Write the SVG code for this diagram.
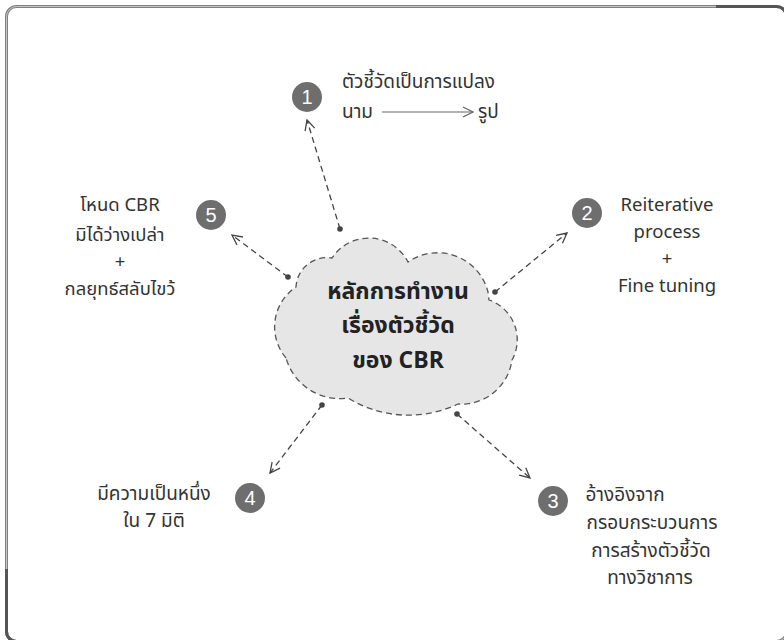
<svg xmlns="http://www.w3.org/2000/svg" width="784" height="640" viewBox="0 0 784 640">
<defs>
<style>
.t{font-family:"Noto Sans Thai","Noto Sans","Liberation Sans",sans-serif;font-size:19px;fill:#333;}
.s{font-size:18.5px;}
.c{text-anchor:middle;}
.num{font-family:"Liberation Sans",sans-serif;font-size:20px;fill:#fff;text-anchor:middle;}
.badge{fill:#6e6e6e;}
.conn{fill:none;stroke:#444;stroke-width:1.3;stroke-dasharray:6 4;marker-start:url(#dot);marker-end:url(#arr);}
.title{font-family:"Noto Sans Thai","Noto Sans","Liberation Sans",sans-serif;font-size:23px;font-weight:bold;fill:#222;text-anchor:middle;}
</style>
<marker id="arr" viewBox="0 0 12 12" refX="11" refY="6" markerWidth="12" markerHeight="12" markerUnits="userSpaceOnUse" orient="auto">
<path d="M1,1 L11,6 L1,11" fill="none" stroke="#444" stroke-width="1.3"/>
</marker>
<marker id="arrg" viewBox="0 0 12 12" refX="11" refY="6" markerWidth="12" markerHeight="12" markerUnits="userSpaceOnUse" orient="auto">
<path d="M1,1 L11,6 L1,11" fill="none" stroke="#666" stroke-width="1.2"/>
</marker>
<marker id="dot" viewBox="0 0 6 6" refX="3" refY="3" markerWidth="6" markerHeight="6" markerUnits="userSpaceOnUse">
<circle cx="3" cy="3" r="2.8" fill="#444"/>
</marker>
</defs>
<rect width="784" height="640" fill="#fff"/>
<g id="frame">
<rect x="6.5" y="6.5" width="780" height="635" rx="10" fill="none" stroke="#808080" stroke-width="3"/>
<rect x="6.5" y="6.5" width="780" height="635" rx="10" fill="none" stroke="#d8d8d8" stroke-width="0.8"/>
<path d="M716,6.5 H776.5 A10,10 0 0 1 786.5,16.5" fill="none" stroke="#555" stroke-width="3"/>
<path d="M6.5,569 V631.5 A10,10 0 0 0 16.5,641.5" fill="none" stroke="#555" stroke-width="3"/>
</g>
<g id="connectors">
<line class="conn" x1="340" y1="229" x2="307" y2="120"/>
<line class="conn" x1="495" y1="292" x2="567" y2="233"/>
<line class="conn" x1="457" y1="414" x2="530" y2="478"/>
<line class="conn" x1="322" y1="405" x2="270" y2="473"/>
<line class="conn" x1="288" y1="277" x2="232" y2="235"/>
</g>
<g id="center">
<path d="M286,358 A48,48 0 0 1 296,287 A31,31 0 0 1 332,258 A44,44 0 0 1 408,262 A52,52 0 0 1 488,292 L489,300 A42,42 0 0 1 512,360 A51,51 0 0 1 458,404 A115,115 0 0 1 348,398 A56,56 0 0 1 286,358 Z" fill="#e6e6e6" stroke="#555" stroke-width="1.3" stroke-dasharray="6 4"/>
<text class="title" x="398" y="299">หลักการทำงาน</text>
<text class="title" x="398" y="333">เรื่องตัวชี้วัด</text>
<text class="title" x="398" y="368">ของ CBR</text>
</g>
<g id="node1">
<circle class="badge" cx="307" cy="97" r="15"/>
<text class="num" x="307" y="104">1</text>
<text class="t" x="342" y="88">ตัวชี้วัดเป็นการแปลง</text>
<text class="t" x="342" y="118">นาม</text>
<line x1="382" y1="112" x2="473" y2="112" stroke="#666" stroke-width="1.2" marker-end="url(#arrg)"/>
<text class="t" x="478" y="118">รูป</text>
</g>
<g id="node2">
<circle class="badge" cx="587" cy="213" r="15"/>
<text class="num" x="587" y="220">2</text>
<text class="t s c" x="667" y="211">Reiterative</text>
<text class="t s c" x="667" y="238">process</text>
<text class="t s c" x="667" y="265">+</text>
<text class="t s c" x="667" y="292">Fine tuning</text>
</g>
<g id="node3">
<circle class="badge" cx="553" cy="501" r="15"/>
<text class="num" x="553" y="508">3</text>
<text class="t c" x="625" y="501">อ้างอิงจาก</text>
<text class="t c" x="652" y="529">กรอบกระบวนการ</text>
<text class="t c" x="651" y="557">การสร้างตัวชี้วัด</text>
<text class="t c" x="650" y="584">ทางวิชาการ</text>
</g>
<g id="node4">
<circle class="badge" cx="250" cy="498" r="15"/>
<text class="num" x="250" y="505">4</text>
<text class="t c" x="154" y="500">มีความเป็นหนึ่ง</text>
<text class="t c" x="154" y="527">ใน 7 มิติ</text>
</g>
<g id="node5">
<circle class="badge" cx="211" cy="215" r="15"/>
<text class="num" x="211" y="222">5</text>
<text class="t s c" x="120" y="211">โหนด CBR</text>
<text class="t s c" x="120" y="241">มิได้ว่างเปล่า</text>
<text class="t s c" x="120" y="268">+</text>
<text class="t s c" x="120" y="295">กลยุทธ์สลับไขว้</text>
</g>
</svg>
